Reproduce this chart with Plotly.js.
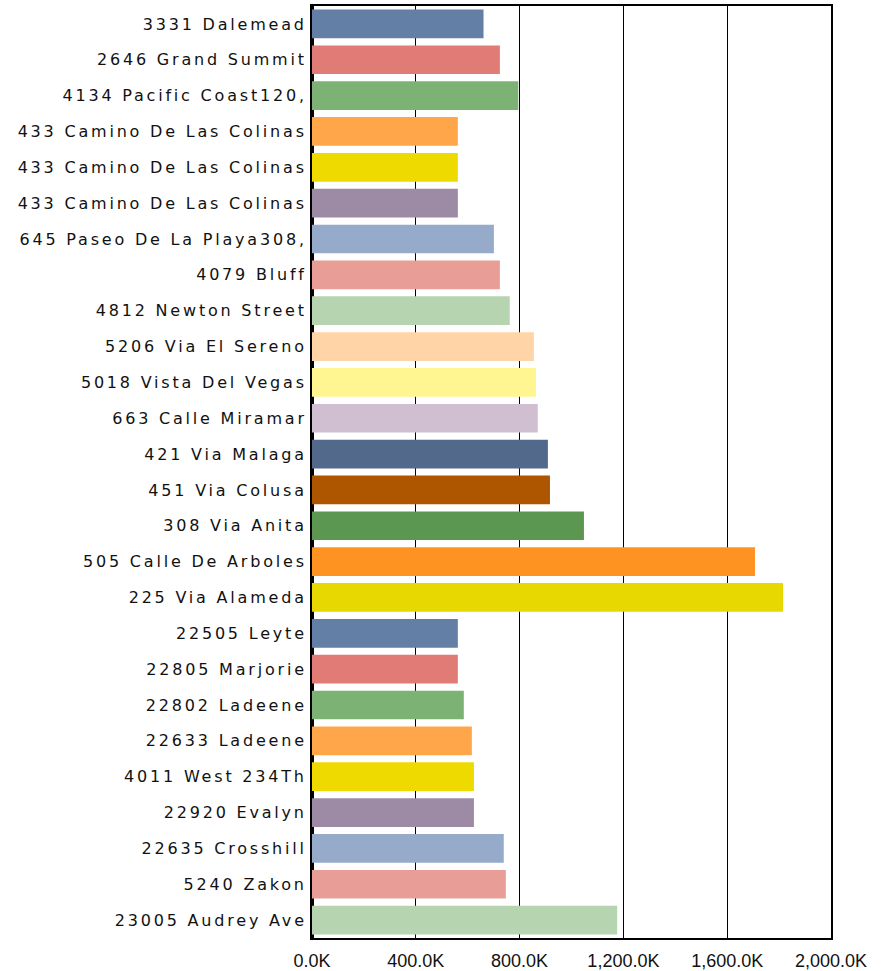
<!DOCTYPE html>
<html>
<head>
<meta charset="utf-8">
<script src="https://cdn.plot.ly/plotly-3.0.1.min.js"></script>
<style>
  html, body { margin: 0; padding: 0; background: #ffffff; }
  #chart { width: 886px; height: 971px; }
  .ytick text { letter-spacing: 2.8px; }
</style>
</head>
<body>
<div id="chart"></div>
<script>
// Property names (top to bottom)
const properties = [
  "3331 Dalemead",
  "2646 Grand Summit",
  "4134 Pacific Coast120,",
  "433 Camino De Las Colinas",
  "433 Camino De Las Colinas",
  "433 Camino De Las Colinas",
  "645 Paseo De La Playa308,",
  "4079 Bluff",
  "4812 Newton Street",
  "5206 Via El Sereno",
  "5018 Vista Del Vegas",
  "663 Calle Miramar",
  "421 Via Malaga",
  "451 Via Colusa",
  "308 Via Anita",
  "505 Calle De Arboles",
  "225 Via Alameda",
  "22505 Leyte",
  "22805 Marjorie",
  "22802 Ladeene",
  "22633 Ladeene",
  "4011 West 234Th",
  "22920 Evalyn",
  "22635 Crosshill",
  "5240 Zakon",
  "23005 Audrey Ave"
];

// Values in thousands
const valuesK = [
  661, 724, 795, 562, 562, 562, 701, 724, 762, 855, 863, 870, 909,
  917, 1048, 1707, 1815, 562, 562, 585, 616, 624, 624, 739, 747, 1176
];

// Bar colour palette (repeats)
const palette = [
  "#647fa6", "#e07b75", "#7db275", "#ffa64a", "#efda00", "#9d8aa5",
  "#95abc9", "#e89e96", "#b6d4af", "#ffd4a6", "#fff591", "#d0bfd0",
  "#52698c", "#ae5500", "#5c9752", "#ff9322", "#e6d800"
];

// Axis ticks (thousands) and their labels
const xTicks = [0, 400, 800, 1200, 1600, 2000];
const xTickLabels = ["0.0K", "400.0K", "800.0K", "1,200.0K", "1,600.0K", "2,000.0K"];

const positions = properties.map((_, i) => i);
const barColors = properties.map((_, i) => palette[i % palette.length]);

const trace = {
  type: "bar",
  orientation: "h",
  x: valuesK,
  y: positions,
  marker: { color: barColors, line: { width: 0 } },
  hoverinfo: "none"
};

const layout = {
  width: 886,
  height: 971,
  margin: { l: 312, r: 55, t: 6, b: 33 },
  paper_bgcolor: "#ffffff",
  plot_bgcolor: "#ffffff",
  showlegend: false,
  bargap: 0.2,
  xaxis: {
    range: [0, 2000],
    tickmode: "array",
    tickvals: xTicks,
    ticktext: xTickLabels,
    ticks: "",
    ticklabelstandoff: 5,
    showgrid: true,
    gridcolor: "#000000",
    gridwidth: 1,
    zeroline: true,
    zerolinecolor: "#000000",
    zerolinewidth: 3,
    showline: true,
    linecolor: "#000000",
    linewidth: 2,
    mirror: true,
    tickfont: { family: "Liberation Sans, Arial, sans-serif", size: 18, color: "#111111" },
    fixedrange: true
  },
  yaxis: {
    range: [properties.length - 0.5, -0.5],
    tickmode: "array",
    tickvals: positions,
    ticktext: properties,
    ticks: "",
    showgrid: false,
    zeroline: false,
    showline: true,
    linecolor: "#000000",
    linewidth: 2,
    mirror: true,
    tickfont: { family: "DejaVu Sans, Verdana, sans-serif", size: 16, color: "#111111" },
    fixedrange: true
  }
};

Plotly.newPlot("chart", [trace], layout, { displayModeBar: false, staticPlot: true });
</script>
</body>
</html>
